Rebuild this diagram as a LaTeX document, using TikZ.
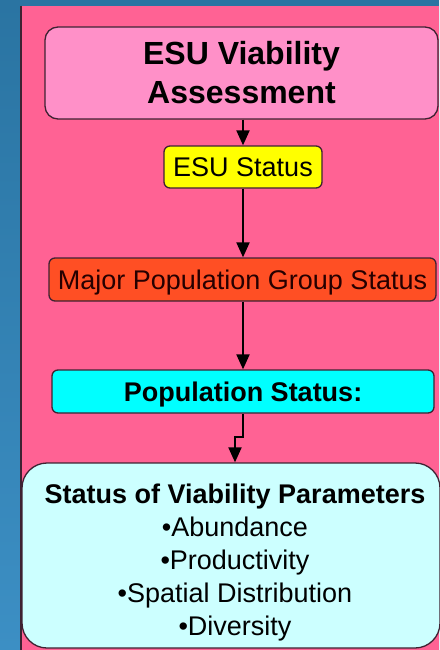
\documentclass[tikz,border=0pt]{standalone}
\usepackage{fontspec}
\setmainfont{Liberation Sans}
\usetikzlibrary{arrows.meta}
\definecolor{bgtop}{HTML}{2A74A2}
\definecolor{bgbot}{HTML}{3C8FC4}
\definecolor{panel}{HTML}{FF6294}
\definecolor{edge}{HTML}{3E2232}
\definecolor{pinkbox}{HTML}{FF90C8}
\definecolor{yellowbox}{HTML}{FFFF00}
\definecolor{orangebox}{HTML}{FF4F24}
\definecolor{cyanbox}{HTML}{00FFFF}
\definecolor{lightcyan}{HTML}{CCFFFF}
\tikzset{
  box/.style={draw=edge, line width=1.3pt, inner sep=0pt, align=center},
  conn/.style={draw=black, line width=2pt, -{Triangle[width=13pt,length=15pt]}},
  regtext/.style={font=\fontsize{27}{33}\selectfont},
  boldtext/.style={font=\fontsize{27}{33}\selectfont\bfseries},
}
\begin{document}
\begin{tikzpicture}[x=1pt,y=-1pt]
\useasboundingbox (0,0) rectangle (439,650);
\shade[top color=bgtop, bottom color=bgbot] (0,0) rectangle (439,650);
\fill[panel] (20,6) rectangle (439,650);
\draw[edge, line width=1.6pt] (20.8,6) -- (20.8,650);

\node[box, fill=pinkbox, rounded corners=13pt, minimum width=393pt, minimum height=92pt,
      font=\fontsize{32}{39}\selectfont\bfseries] (top) at (241.5,73) {ESU Viability\\Assessment};
\node[box, fill=yellowbox, rounded corners=6pt, minimum width=158pt, minimum height=42pt,
      regtext, text depth=0pt] (esu) at (243,167) {ESU Status};
\node[box, fill=orangebox, rounded corners=6pt, minimum width=387pt, minimum height=43pt,
      regtext, text depth=0pt, text=black!85!red] (mpg) at (242.5,279.5) {Major Population Group Status};
\node[box, fill=cyanbox, rounded corners=6pt, minimum width=382pt, minimum height=43pt,
      boldtext, text depth=0pt] (pop) at (243,391.5) {Population Status:};
\node[box, fill=lightcyan, rounded corners=25pt, minimum width=418pt, minimum height=185pt] (vp) at (231,555.5) {};
\node[regtext, align=center, inner sep=0pt, anchor=north] (vptext) at (235,483.5)
  {\textbf{Status of Viability Parameters}\\•Abundance\\•Productivity\\•Spatial Distribution\\•Diversity};

\coordinate (jog) at (235,437);
\draw[conn] (esu.north |- top.south) -- (esu.north);
\draw[conn] (esu.south) -- (esu.south |- mpg.north);
\draw[conn] (pop.north |- mpg.south) -- (pop.north);
\draw[conn] (pop.south) |- (jog) -- (jog |- vp.north);
\end{tikzpicture}
\end{document}
